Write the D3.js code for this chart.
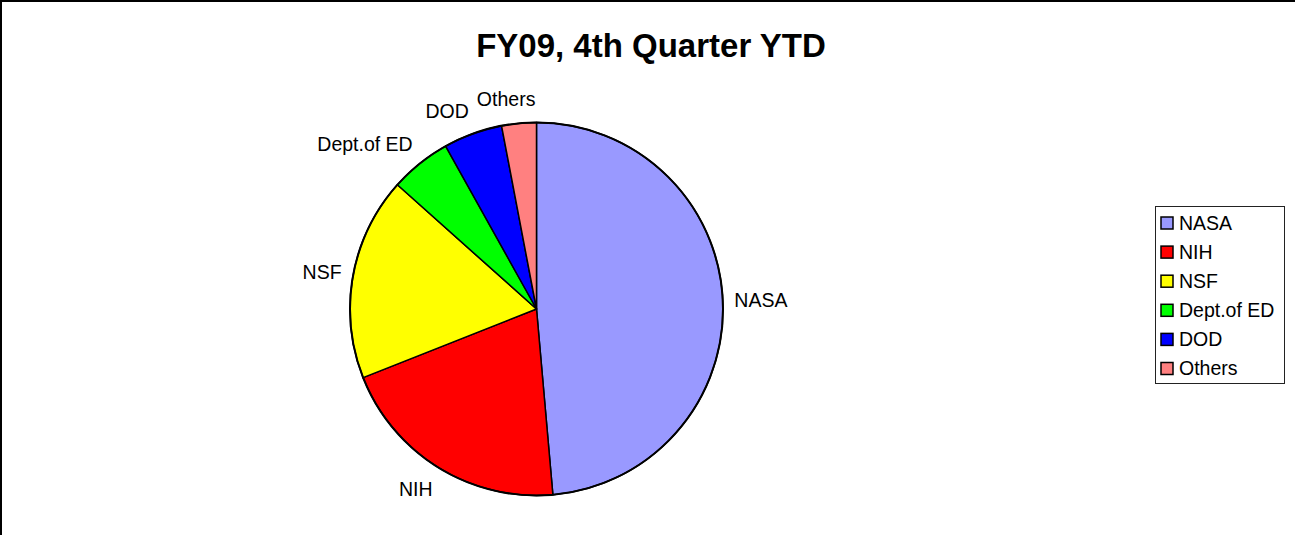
<!DOCTYPE html>
<html>
<head>
<meta charset="utf-8">
<script src="https://cdn.jsdelivr.net/npm/d3@7"></script>
<style>
  html, body { margin: 0; padding: 0; background: #fff; }
  svg { display: block; }
  text { font-family: "Liberation Sans", Arial, sans-serif; fill: #000; }
</style>
</head>
<body>
<svg id="chart" width="1295" height="535"></svg>
<script>
const categories = ["NASA", "NIH", "NSF", "Dept.of ED", "DOD", "Others"];
const values = [48.6, 20.4, 17.6, 5.3, 5.1, 3.0];
const colors = ["#9999FF", "#FF0000", "#FFFF00", "#00FF00", "#0000FF", "#FF8080"];
const title = "FY09, 4th Quarter YTD";

const W = 1295, H = 535;
const svg = d3.select("#chart");

// outer frame (right/bottom edges fall outside the view)
svg.append("rect")
  .attr("x", 1).attr("y", 1).attr("width", W + 10).attr("height", H + 10)
  .attr("fill", "none").attr("stroke", "#000").attr("stroke-width", 2);

// title
svg.append("text")
  .attr("x", 651).attr("y", 57)
  .attr("text-anchor", "middle")
  .style("font-size", "33px").style("font-weight", "bold")
  .text(title);

const cx = 536.5, cy = 309, r = 186.5;
const data = categories.map((c, i) => ({ name: c, value: values[i], color: colors[i] }));
const pie = d3.pie().sort(null).value(d => d.value);
const arcs = pie(data);
const arc = d3.arc().innerRadius(0).outerRadius(r);

const g = svg.append("g").attr("transform", `translate(${cx},${cy})`);
g.selectAll("path.slice").data(arcs).join("path")
  .attr("class", "slice")
  .attr("d", arc)
  .attr("fill", d => d.data.color)
  .attr("stroke", "#000").attr("stroke-width", 1.5)
  .attr("stroke-linejoin", "round");
g.append("circle").attr("r", r).attr("fill", "none")
  .attr("stroke", "#000").attr("stroke-width", 2);

// labels
const labelR = r + 11.5, fs = 19.5, capH = 14, boxH = 26;
const placed = [];
arcs.forEach(a => {
  const mid = (a.startAngle + a.endAngle) / 2;
  const s = Math.sin(mid), c = Math.cos(mid);
  const px = s * labelR, py = -c * labelR;
  const t = g.append("text")
    .style("font-size", fs + "px")
    .text(a.data.name);
  const w = t.node().getComputedTextLength();
  let left = s < 0 ? px - w : px;
  const yc = py - c * boxH / 2;
  let box = { l: left, r: left + w, t: yc - capH / 2 - 1, b: yc + capH / 2 + 1 };
  placed.forEach(p => {
    if (box.l < p.r && box.r > p.l && box.t < p.b && box.b > p.t) {
      const shift = p.r + 8 - box.l;
      box.l += shift; box.r += shift;
    }
  });
  placed.push(box);
  t.attr("x", box.l).attr("y", yc + capH / 2);
});

// legend
const lg = svg.append("g");
lg.append("rect")
  .attr("x", 1155.5).attr("y", 206.5).attr("width", 129).attr("height", 177)
  .attr("fill", "#fff").attr("stroke", "#222").attr("stroke-width", 1);
const rowY = d3.scalePoint().domain(categories).range([223, 368.5]);
const items = lg.selectAll("g.item").data(data).join("g").attr("class", "item")
  .attr("transform", d => `translate(0,${rowY(d.name)})`);
items.append("rect")
  .attr("x", 1161).attr("y", -6).attr("width", 12).attr("height", 12)
  .attr("fill", d => d.color).attr("stroke", "#000").attr("stroke-width", 1.5);
items.append("text")
  .attr("x", 1179).attr("y", 6.5)
  .style("font-size", fs + "px")
  .text(d => d.name);
</script>
</body>
</html>
